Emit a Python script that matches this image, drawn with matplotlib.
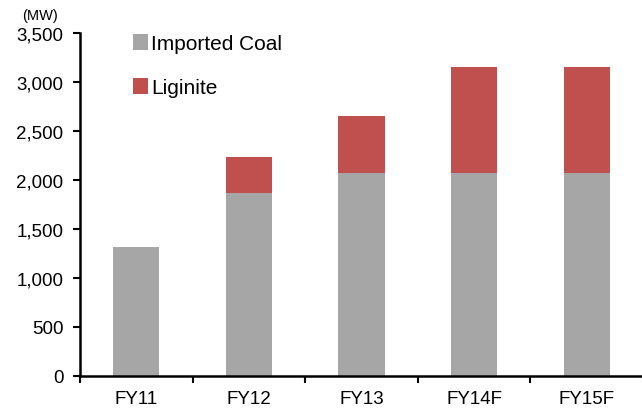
import numpy as np
import matplotlib
matplotlib.use("Agg")
import matplotlib.pyplot as plt
from matplotlib.ticker import FuncFormatter, FixedLocator

plt.rcParams["font.family"] = ["Liberation Sans", "DejaVu Sans"]

years = ["FY11", "FY12", "FY13", "FY14F", "FY15F"]
imported_coal = [1320, 1870, 2070, 2070, 2070]
lignite = [0, 360, 580, 1080, 1080]

GRAY = "#A6A6A6"
RED = "#C0504D"

fig = plt.figure(figsize=(6.42, 4.14), dpi=100)
ax = fig.add_axes([0.1246, 0.0894, 0.877, 0.829])

x = np.arange(len(years))
w = 0.41
ax.bar(x, imported_coal, w, color=GRAY, label="Imported Coal")
ax.bar(x, lignite, w, bottom=imported_coal, color=RED, label="Liginite")

ax.set_xlim(-0.5, len(years) - 0.5)
ax.set_ylim(0, 3500)
ax.set_yticks(np.arange(0, 3501, 500))
ax.yaxis.set_major_formatter(FuncFormatter(lambda v, p: f"{int(v):,}"))

ax.set_xticks(x)
ax.set_xticklabels(years)
ax.xaxis.set_minor_locator(FixedLocator(np.arange(-0.5, len(years), 1.0)))
ax.tick_params(axis="x", which="major", length=0, labelsize=13.5, pad=10)
ax.tick_params(axis="x", which="minor", length=5, width=1.5, direction="out")
ax.tick_params(axis="y", length=5, width=1.5, labelsize=13.5, pad=7)

for side in ["top", "right"]:
    ax.spines[side].set_visible(False)
for side in ["left", "bottom"]:
    ax.spines[side].set_linewidth(1.8)

fig.text(0.034, 0.961, "(MW)", fontsize=10.5, ha="left", va="center")

ax.legend(loc="upper left", bbox_to_anchor=(0.06, 1.05), frameon=False,
          fontsize=15, handlelength=0.75, handleheight=0.75, handletextpad=0.15,
          labelspacing=1.2)

fig.savefig("out.png", dpi=100)
